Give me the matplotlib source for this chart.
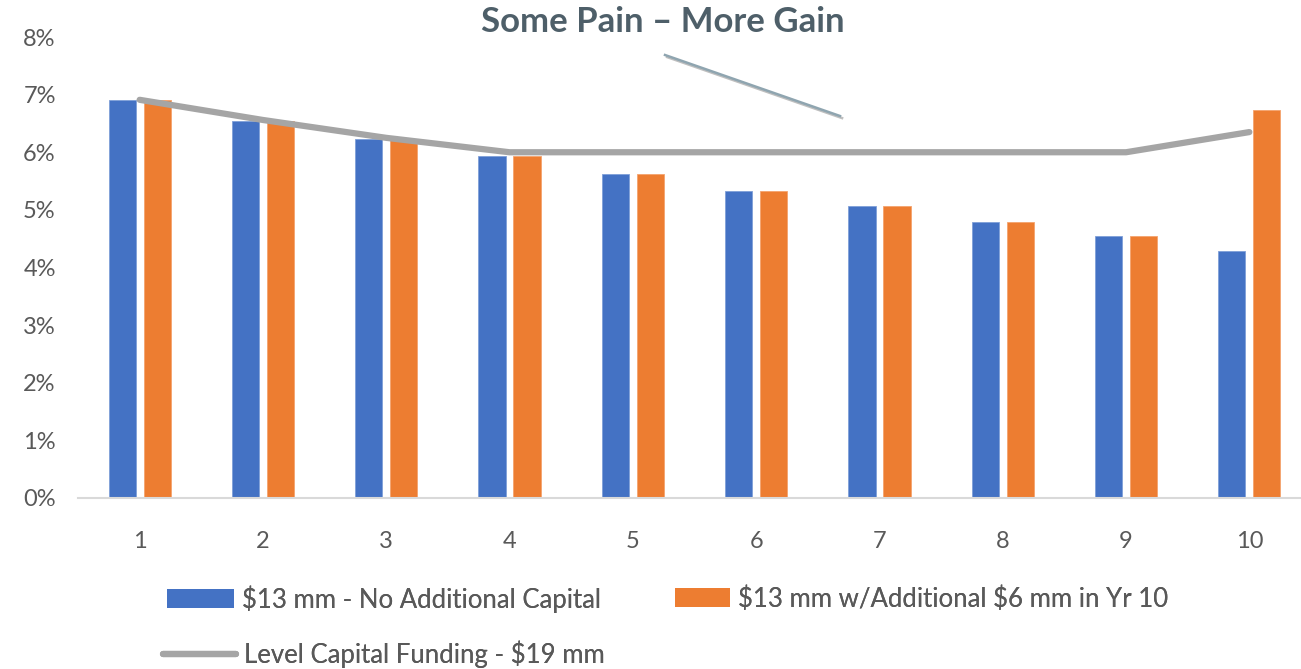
import numpy as np
import matplotlib.pyplot as plt
from matplotlib.lines import Line2D
from matplotlib.patches import Patch
import matplotlib.patheffects as pe

years = [1, 2, 3, 4, 5, 6, 7, 8, 9, 10]
no_additional = [6.91, 6.55, 6.23, 5.94, 5.63, 5.33, 5.07, 4.79, 4.55, 4.29]
with_additional = [6.91, 6.55, 6.23, 5.94, 5.63, 5.33, 5.07, 4.79, 4.55, 6.74]
level_funding = [6.91, 6.56, 6.25, 6.0, 6.0, 6.0, 6.0, 6.0, 6.0, 6.35]

y_ticks = [0, 1, 2, 3, 4, 5, 6, 7, 8]

blue = '#4472C4'
orange = '#ED7D31'
grey = '#A5A5A5'
text_col = '#595959'

plt.rcParams['font.family'] = ['Lato', 'DejaVu Sans']
plt.rcParams['text.parse_math'] = False

W, H = 1301, 669
fig = plt.figure(figsize=(W / 100, H / 100), dpi=100)
# plot area runs slightly past the right edge of the figure
left, right, bottom, top = 78, 1311, 498, 37
ax = fig.add_axes([left / W, 1 - bottom / H, (right - left) / W, (bottom - top) / H])

x = np.arange(len(years))
w = 0.22
off = 0.142
ax.bar(x - off, no_additional, w, color=blue, edgecolor='#7F9FD8', linewidth=0.6)
ax.bar(x + off, with_additional, w, color=orange, edgecolor='#F4A36E', linewidth=0.6)
ax.plot(x, level_funding, color=grey, linewidth=4.5, solid_capstyle='round',
        solid_joinstyle='round')

ax.set_xlim(-0.5, len(years) - 0.5)
ax.set_ylim(0, 8)
ax.set_xticks(x)
ax.set_xticklabels([str(y) for y in years])
ax.set_yticks(y_ticks)
ax.set_yticklabels([f'{t}%' for t in y_ticks])
ax.tick_params(axis='both', length=0, labelsize=17, colors=text_col)
ax.tick_params(axis='x', pad=24)
ax.tick_params(axis='y', pad=16)
for s in ['top', 'right', 'left']:
    ax.spines[s].set_visible(False)
ax.spines['bottom'].set_color('#D9D9D9')
ax.spines['bottom'].set_linewidth(1.5)

fig.text(663 / W, 1 - 22 / H, 'Some Pain \u2013 More Gain', ha='center', va='center',
         fontsize=25, fontweight='bold', color='#4E5F69')

# pointer line under the heading
pointer = Line2D([665 / W, 840 / W], [1 - 55 / H, 1 - 116 / H], transform=fig.transFigure,
                 color='#8FA5B0', linewidth=1.8,
                 path_effects=[pe.SimpleLineShadow(offset=(1.5, -1.5), alpha=0.25),
                               pe.Normal()])
fig.add_artist(pointer)

# legend entries, each placed on its own
h1 = Patch(facecolor=blue)
h2 = Patch(facecolor=orange)
h3 = Line2D([], [], color=grey, linewidth=4.5, solid_capstyle='round')
entries = [
    (h1, '$13 mm - No Additional Capital', 167, 599, 2.6),
    (h2, '$13 mm w/Additional $6 mm in Yr 10', 675, 599, 2.15),
    (h3, 'Level Capital Funding - $19 mm', 163, 654, 2.85),
]
fs = 18.5
for h, label, px, py, hl in entries:
    leg = fig.legend([h], [label], loc='center left', bbox_to_anchor=(px / W, 1 - py / H),
                     frameon=False, fontsize=fs, labelcolor=text_col, handlelength=hl,
                     handleheight=0.75, handletextpad=0.3, borderaxespad=0, borderpad=0)
    fig.add_artist(leg)

fig.savefig('out.png', dpi=100, facecolor='white')
